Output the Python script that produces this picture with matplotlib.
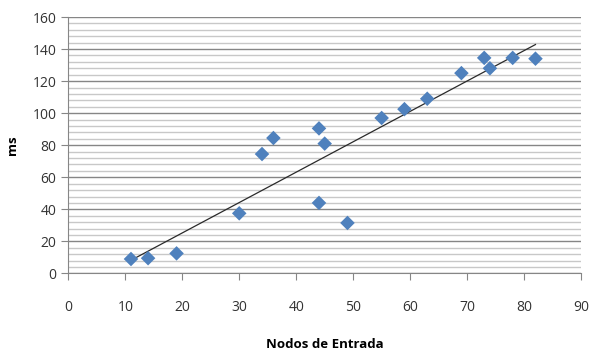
import numpy as np
import matplotlib.pyplot as plt
from matplotlib.ticker import MultipleLocator

# nodos de entrada vs tiempo (ms)
nodos = [11, 14, 19, 30, 34, 36, 44, 45, 44, 49, 55, 59, 63, 69, 73, 74, 78, 82]
tiempo = [9, 9.5, 12.5, 37.5, 74.5, 84.5, 90.5, 81, 44, 31.5, 97, 102.5, 109, 125, 134.5, 128, 134.5, 134]

plt.rcParams['font.family'] = ['Open Sans', 'DejaVu Sans']

fig = plt.figure(figsize=(5.89, 3.51), dpi=100)
ax = fig.add_axes([0.116, 0.221, 0.8705, 0.7305])

ax.set_xlim(0, 90)
ax.set_ylim(0, 160)
ax.xaxis.set_major_locator(MultipleLocator(10))
ax.yaxis.set_major_locator(MultipleLocator(20))
ax.yaxis.set_minor_locator(MultipleLocator(4))

ax.grid(axis='y', which='major', color='#868686', lw=1.0, zorder=0)
ax.grid(axis='y', which='minor', color='#c8c8c8', lw=1.0, zorder=0)
ax.set_axisbelow(True)

ax.scatter(nodos, tiempo, marker='D', s=55, color='#4F81BD', edgecolors='none', zorder=3)

# linea de tendencia lineal
m, b = np.polyfit(nodos, tiempo, 1)
xs = np.array([min(nodos), max(nodos)])
ax.plot(xs, m * xs + b, color='#2a2a2a', lw=0.9, zorder=2)

for s in ['top', 'right']:
    ax.spines[s].set_visible(False)
for s in ['left', 'bottom']:
    ax.spines[s].set_color('#868686')

ax.tick_params(axis='both', which='major', direction='out', length=5, color='#868686',
               labelsize=10, labelcolor='#333333')
ax.tick_params(axis='x', pad=14)
ax.tick_params(axis='y', which='minor', length=0)

ax.set_xlabel('Nodos de Entrada', fontsize=9.5, fontweight='bold', labelpad=17)
ax.set_ylabel('ms', fontsize=9.5, fontweight='bold', labelpad=10)

fig.savefig('out.png', dpi=100)
